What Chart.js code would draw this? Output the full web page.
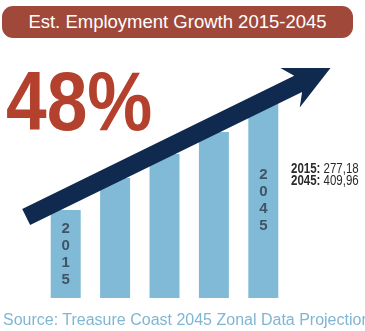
<!DOCTYPE html>
<html>
<head>
<meta charset="utf-8">
<script src="https://cdn.jsdelivr.net/npm/chart.js@4.4.1/dist/chart.umd.min.js"></script>
<style>
  html, body { margin: 0; padding: 0; background: #fff; }
  body { width: 365px; height: 331px; overflow: hidden; position: relative; font-family: "Liberation Sans", Arial, sans-serif; }
  #wrap { position: absolute; left: 0; top: 0; width: 365px; height: 331px; }
  .banner {
    position: absolute; left: 2px; top: 6px; width: 351px; height: 32px;
    background: #a0493b; border-radius: 11px; color: #fff;
    font-size: 18.5px; line-height: 32px; text-align: center; white-space: nowrap;
  }
  .big {
    position: absolute; left: 6px; top: 59px; font-size: 84px; line-height: 84px;
    font-weight: bold; color: #b4412d; transform: scaleX(0.87); transform-origin: 0 0;
    white-space: nowrap;
  }
  .totals {
    position: absolute; left: 291px; top: 162px; font-size: 14px; line-height: 12px;
    color: #2b2b2b; transform: scaleX(0.82); transform-origin: 0 0; white-space: nowrap;
  }
  .source {
    position: absolute; left: 3px; top: 312px; font-size: 16px; line-height: 16px;
    color: #7fb6d3; white-space: nowrap;
  }
</style>
</head>
<body>
<div id="wrap"><canvas id="bars"></canvas></div>
<div class="banner">Est. Employment Growth 2015-2045</div>
<div class="big">48%</div>
<div class="totals"><b>2015:</b> 277,18<br><b>2045:</b> 409,96</div>
<div class="source">Source: Treasure Coast 2045 Zonal Data Projection</div>
<script>
// bar heights (relative units)
const categories = ['2015', '', '', '', '2045'];
const barHeights = [88, 120, 144, 166, 195];

// vertical year text inside the first and last bar
const barText = {
  id: 'barText',
  afterDatasetsDraw(chart) {
    const ctx = chart.ctx;
    const bars = chart.getDatasetMeta(0).data;
    ctx.save();
    ctx.font = 'bold 15px "Liberation Sans", Arial, sans-serif';
    ctx.fillStyle = '#3f5465';
    ctx.textAlign = 'center';
    ctx.textBaseline = 'middle';
    bars.forEach((bar, i) => {
      const label = categories[i];
      if (!label) return;
      const mid = (bar.y + bar.base) / 2;
      const step = 17;
      const first = mid - step * (label.length - 1) / 2;
      label.split('').forEach((ch, k) => ctx.fillText(ch, bar.x, first + k * step));
    });
    ctx.restore();
  }
};

// big growth arrow over the bars
const growthArrow = {
  id: 'growthArrow',
  afterDatasetsDraw(chart) {
    const xs = chart.scales.x, ys = chart.scales.y, ctx = chart.ctx;
    const x0 = xs.getPixelForValue(-0.8), y0 = ys.getPixelForValue(81);
    const x1 = xs.getPixelForValue(5.36), y1 = ys.getPixelForValue(230);
    const len = Math.hypot(x1 - x0, y1 - y0);
    const ang = Math.atan2(y1 - y0, x1 - x0);
    const half = 9, headLen = 45, headHalf = 22, neck = 36;
    ctx.save();
    ctx.translate(x0, y0);
    ctx.rotate(ang);
    ctx.fillStyle = '#0f2a4e';
    ctx.beginPath();
    ctx.moveTo(0, -half);
    ctx.lineTo(len - neck, -half);
    ctx.lineTo(len - headLen, -headHalf);
    ctx.lineTo(len, 0);
    ctx.lineTo(len - headLen, headHalf);
    ctx.lineTo(len - neck, half);
    ctx.lineTo(0, half);
    ctx.closePath();
    ctx.fill();
    ctx.restore();
  }
};

new Chart(document.getElementById('bars'), {
  type: 'bar',
  data: {
    labels: categories,
    datasets: [{
      data: barHeights,
      backgroundColor: '#80bad6',
      borderWidth: 0,
      barPercentage: 0.607,
      categoryPercentage: 1
    }]
  },
  options: {
    responsive: true,
    maintainAspectRatio: false,
    animation: false,
    events: [],
    layout: { padding: { left: 41, right: 77, top: 0, bottom: 33 } },
    plugins: { legend: { display: false }, tooltip: { enabled: false } },
    scales: {
      x: { display: false },
      y: { display: false, min: 0, max: 298 }
    }
  },
  plugins: [barText, growthArrow]
});
</script>
</body>
</html>
